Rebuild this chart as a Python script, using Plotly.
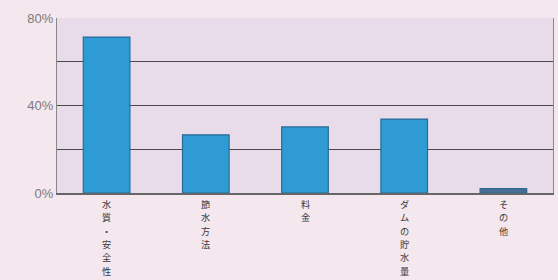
import plotly.graph_objects as go

categories = ["水質・安全性", "節水方法", "料金", "ダムの貯水量", "その他"]
values = [71.3, 26.6, 30.2, 33.8, 2.0]
y_tick_vals = [0, 20, 40, 60, 80]
y_tick_text = ["0%", "", "40%", "", "80%"]

bar_colors = ["#2f9bd5", "#2f9bd5", "#2f9bd5", "#2f9bd5", "#4a6e98"]

fig = go.Figure(go.Bar(
    x=categories,
    y=values,
    width=0.47,
    marker=dict(color=bar_colors, line=dict(color="#2a6a95", width=1.2)),
))

# vertical (tategaki) category labels, one character per line
char_step = 13.3
for cat in categories:
    for j, ch in enumerate(cat):
        fig.add_annotation(
            x=cat, xref="x", y=0, yref="paper", yanchor="top",
            yshift=-(3 + j * char_step), text=ch, showarrow=False,
            borderpad=0,
            font=dict(family="Noto Sans CJK JP", size=9.2, color="#3a3a3a"),
        )

fig.update_layout(
    width=558, height=280,
    margin=dict(l=57, r=5, t=18, b=87),
    paper_bgcolor="#f5e7ee",
    plot_bgcolor="#e9dcea",
    showlegend=False,
)
fig.update_xaxes(
    showticklabels=False,
    showline=True, linecolor="#666666", linewidth=1.5,
    mirror=False, ticks="", showgrid=False, automargin=False,
)
fig.update_yaxes(
    range=[0, 80], tickmode="array", tickvals=y_tick_vals, ticktext=y_tick_text,
    tickfont=dict(family="Liberation Sans", size=13, color="#7a7a7a"),
    showgrid=True, gridcolor="#4a4a4a", gridwidth=1.3,
    showline=True, linecolor="#888888", linewidth=1.3, mirror=True,
    zeroline=False, ticks="", automargin=False,
)

fig.write_html(
    "out.html",
    config={"displayModeBar": False},
    post_script="document.body.style.margin='0';document.body.style.background='#f5e7ee';",
)
